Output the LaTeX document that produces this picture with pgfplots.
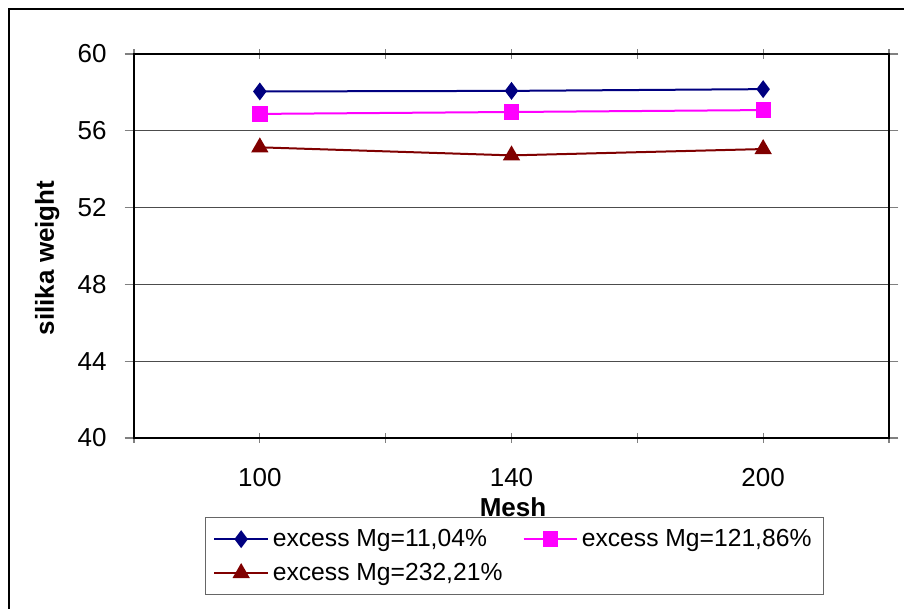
\documentclass[border=0pt]{standalone}
\usepackage{pgfplots}
\pgfplotsset{compat=1.18}
\usepackage{fontspec}
\setmainfont{Liberation Sans}
\definecolor{mg1}{HTML}{000080}
\definecolor{mg2}{HTML}{FF00FF}
\definecolor{mg3}{HTML}{800000}
\begin{document}
\begin{tikzpicture}
\useasboundingbox (0,0) rectangle (678pt,-456pt);
% outer chart frame, runs off the right and bottom edges
\draw[line width=1.5pt] (6.75pt,-6.75pt) rectangle (700pt,-480pt);
\begin{axis}[
  at={(100.5pt,-328.5pt)}, anchor=south west,
  width=566.25pt, height=288pt, scale only axis,
  xmin=-0.5, xmax=2.5, ymin=40, ymax=60,
  xtick={-0.5,0,0.5,1,1.5,2,2.5},
  xticklabels={,100,,140,,200,},
  ytick={40,44,...,60},
  /pgf/number format/assume math mode=true,
  ymajorgrids,
  major grid style={draw=black!70, line width=0.7pt},
  axis line style={line width=1.5pt},
  tick style={draw=gray, line width=0.8pt},
  major tick length=7pt,
  xtick align=center,
  ytick align=outside,
  tick label style={font=\fontsize{19.5}{23}\selectfont},
  yticklabel style={xshift=-10pt},
  xticklabel style={yshift=-16pt},
  xlabel={\textbf{Mesh}},
  ylabel={\textbf{silika weight}},
  label style={font=\fontsize{19.5}{23}\selectfont},
  xlabel style={at={(axis description cs:0.502,-0.18)}, anchor=center},
  ylabel style={at={(axis description cs:-0.115,0.469)}, anchor=center},
  legend style={
    at={(axis description cs:0.094,-0.2057)}, anchor=north west,
    draw=gray!80!black, line width=0.8pt,
    font=\fontsize{18.5}{22}\selectfont,
    inner xsep=6pt, inner ysep=6pt,
    row sep=5pt,
    /tikz/every even column/.append style={column sep=12pt},
    nodes={inner sep=3pt},
  },
  legend columns=2,
  legend cell align=left,
  legend image code/.code={
    \draw[mark repeat=2, mark phase=2, #1]
      plot coordinates {(0pt,0pt) (20pt,0pt) (40pt,0pt)};
  },
]
\addplot[color=mg1, line width=1.5pt, mark=diamond*, mark size=5.5pt] coordinates {
  (0, 58.05)
  (1, 58.08)
  (2, 58.17)
};
\addlegendentry{excess Mg=11,04\%}
\addplot[color=mg2, line width=1.5pt, mark=square*, mark size=5pt] coordinates {
  (0, 56.88)
  (1, 56.98)
  (2, 57.08)
};
\addlegendentry{excess Mg=121,86\%}
\addplot[color=mg3, line width=1.5pt, mark=triangle*, mark size=6pt] coordinates {
  (0, 55.14)
  (1, 54.72)
  (2, 55.05)
};
\addlegendentry{excess Mg=232,21\%}
\end{axis}
\end{tikzpicture}
\end{document}
